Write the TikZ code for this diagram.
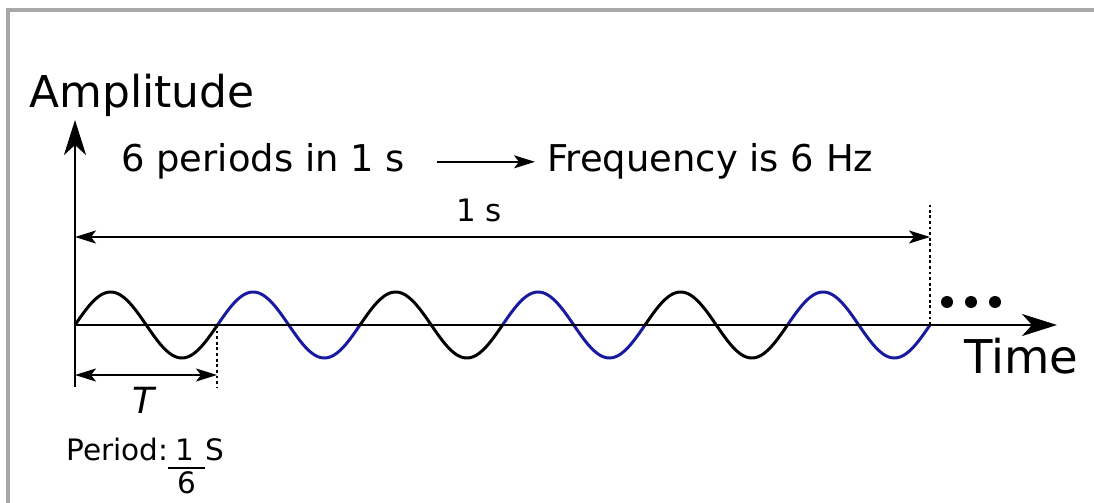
\documentclass[tikz,border=0pt]{standalone}
\usepackage{fontspec}
\setmainfont{DejaVu Sans}
\usetikzlibrary{arrows.meta,positioning}
\definecolor{waveblue}{HTML}{1A1AA0}
\definecolor{framegray}{HTML}{A8A8A8}
\tikzset{
  axis/.style={-{Stealth[length=7mm,width=4.4mm,inset=2mm]},line width=1.5pt},
  span/.style={{Stealth[length=4.2mm,width=2.6mm,inset=1mm]}-{Stealth[length=4.2mm,width=2.6mm,inset=1mm]},line width=1.1pt},
  flow/.style={-{Stealth[length=4.2mm,width=2.6mm,inset=1mm]},line width=1.1pt},
  guide/.style={line width=1.5pt,dash pattern=on 1.6pt off 1.6pt},
  wave/.style={line width=1.7pt},
  lbl/.style={inner sep=0pt,anchor=base west}
}

\begin{document}
\begin{tikzpicture}[x=0.02cm,y=-0.02cm]
  \useasboundingbox (0,0) rectangle (1094,503);
  \draw[framegray,line width=2.2pt] (8,503) -- (8,10) -- (1094,10);
  \coordinate (origin) at (75,325);
  \coordinate (ytop) at (75,120);
  \coordinate (ybot) at (75,387);
  \coordinate (xend) at (1057,325);
  \coordinate (pend) at (217,325);
  \coordinate (pfoot) at (217,388);
  \coordinate (send) at (930,325);
  \coordinate (shead) at (930,205);
  \coordinate (tleft) at (75,375);
  \coordinate (tright) at (217,375);
  \coordinate (sleft) at (75,237);
  \coordinate (sright) at (930,237);
  \foreach \k/\col in {0/black,1/waveblue,2/black,3/waveblue,4/black,5/waveblue}
    \draw[wave,\col] plot[domain=0:360,samples=61,variable=\t]
      ({75+142.5*(\k+\t/360)},{325-33*sin(\t)});
  \draw[axis] (ybot) -- (ytop);
  \draw[axis] (origin) -- (xend);
  \draw[guide] (pend) -- (pfoot);
  \draw[guide] (send) -- (shead);
  \draw[span] (tleft) -- (tright);
  \draw[span] (sleft) -- (sright);
  \foreach \x in {947,971,995}
    \fill (\x,302) circle (0.12cm);
  \node[lbl,font=\fontsize{25}{30}\selectfont] (amp) at (29,108) {Amplitude};
  \node[lbl,font=\fontsize{26.5}{32}\selectfont] (time) at (964,373) {Time};
  \node[lbl,font=\fontsize{21}{25}\selectfont] (periods) at (121,172) {6 periods in 1 s};
  \node[lbl,font=\fontsize{21}{25}\selectfont] (freq) at (547,172) {Frequency is 6 Hz};
  \draw[flow] ([xshift=0.64cm]periods.east) -- ([xshift=-0.24cm]freq.west);
  \node[lbl,font=\fontsize{17.6}{21}\selectfont] (onesec) at (456,221) {1 s};
  \node[inner sep=0pt,anchor=base,font=\fontsize{20.5}{24}\selectfont\itshape] (tlbl) at (143,413) {T};
  \node[lbl,font=\fontsize{16.8}{20}\selectfont] (period) at (66,460) {Period:};
  \node[inner sep=0pt,anchor=base,font=\fontsize{16.8}{20}\selectfont] (num) at (185,460) {1};
  \node[inner sep=0pt,anchor=base,font=\fontsize{16.8}{20}\selectfont] (den) at (187,493) {6};
  \node[lbl,font=\fontsize{16.8}{20}\selectfont] (unit) at (205,460) {S};
  \draw[line width=1.1pt] (168,468) -- (205,468);
\end{tikzpicture}
\end{document}
